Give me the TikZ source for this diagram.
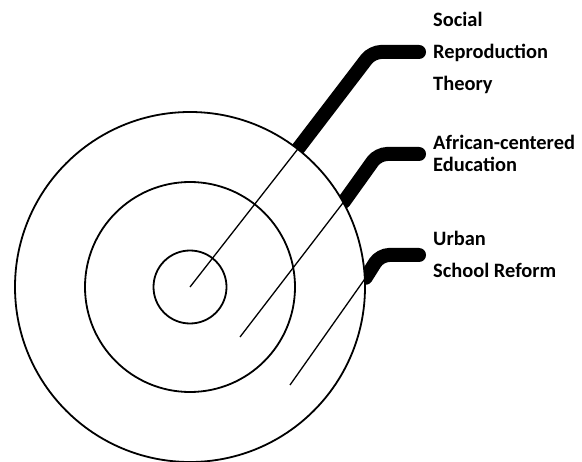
\documentclass[tikz,border=0pt]{standalone}
\usepackage{fontspec}
\setmainfont{Carlito}
\usetikzlibrary{positioning, backgrounds}

\begin{document}
\begin{tikzpicture}[x=1bp, y=-1bp,
    ring/.style={draw, circle, inner sep=0pt, line width=1.8bp},
    spoke/.style={line width=1.3bp},
    leader/.style={line width=14bp, line cap=round, rounded corners=9bp},
    tag/.style={font=\bfseries\fontsize{20.5}{32.5}\selectfont, align=left, anchor=base west, inner sep=0pt}]
  \useasboundingbox (0,0) rectangle (582,462);
  \coordinate (c) at (190,287);
  \coordinate (s2) at (240,337);
  \coordinate (s3) at (290,385);
  \node[ring, fill=white, minimum size=350bp] (outer) at (c) {};
  \node[ring, minimum size=210bp] (middle) at (c) {};
  \node[ring, minimum size=73bp] (inner) at (c) {};
  % thick leaders behind the outer ring
  \begin{scope}[on background layer]
    \draw[leader] (outer.52) -- (372,52) -- (419,52);
    \draw[leader] (outer.29.5) -- (378,154) -- (419,154);
    \draw[leader] (outer.3.5) -- (380,255) -- (419,255);
  \end{scope}
  \draw[spoke] (c) -- (outer.52);
  \draw[spoke] (s2) -- (outer.29.5);
  \draw[spoke] (s3) -- (outer.3.5);
  % labels, anchored at the last line
  \node[tag] (srt) at (433,91) {Social\\Reproduction\\Theory};
  \node[tag, font=\bfseries\fontsize{20.5}{23}\selectfont] (ace) at (433,172) {African-centered\\Education};
  \node[tag] (usr) at (433,278) {Urban\\School Reform};
\end{tikzpicture}
\end{document}
